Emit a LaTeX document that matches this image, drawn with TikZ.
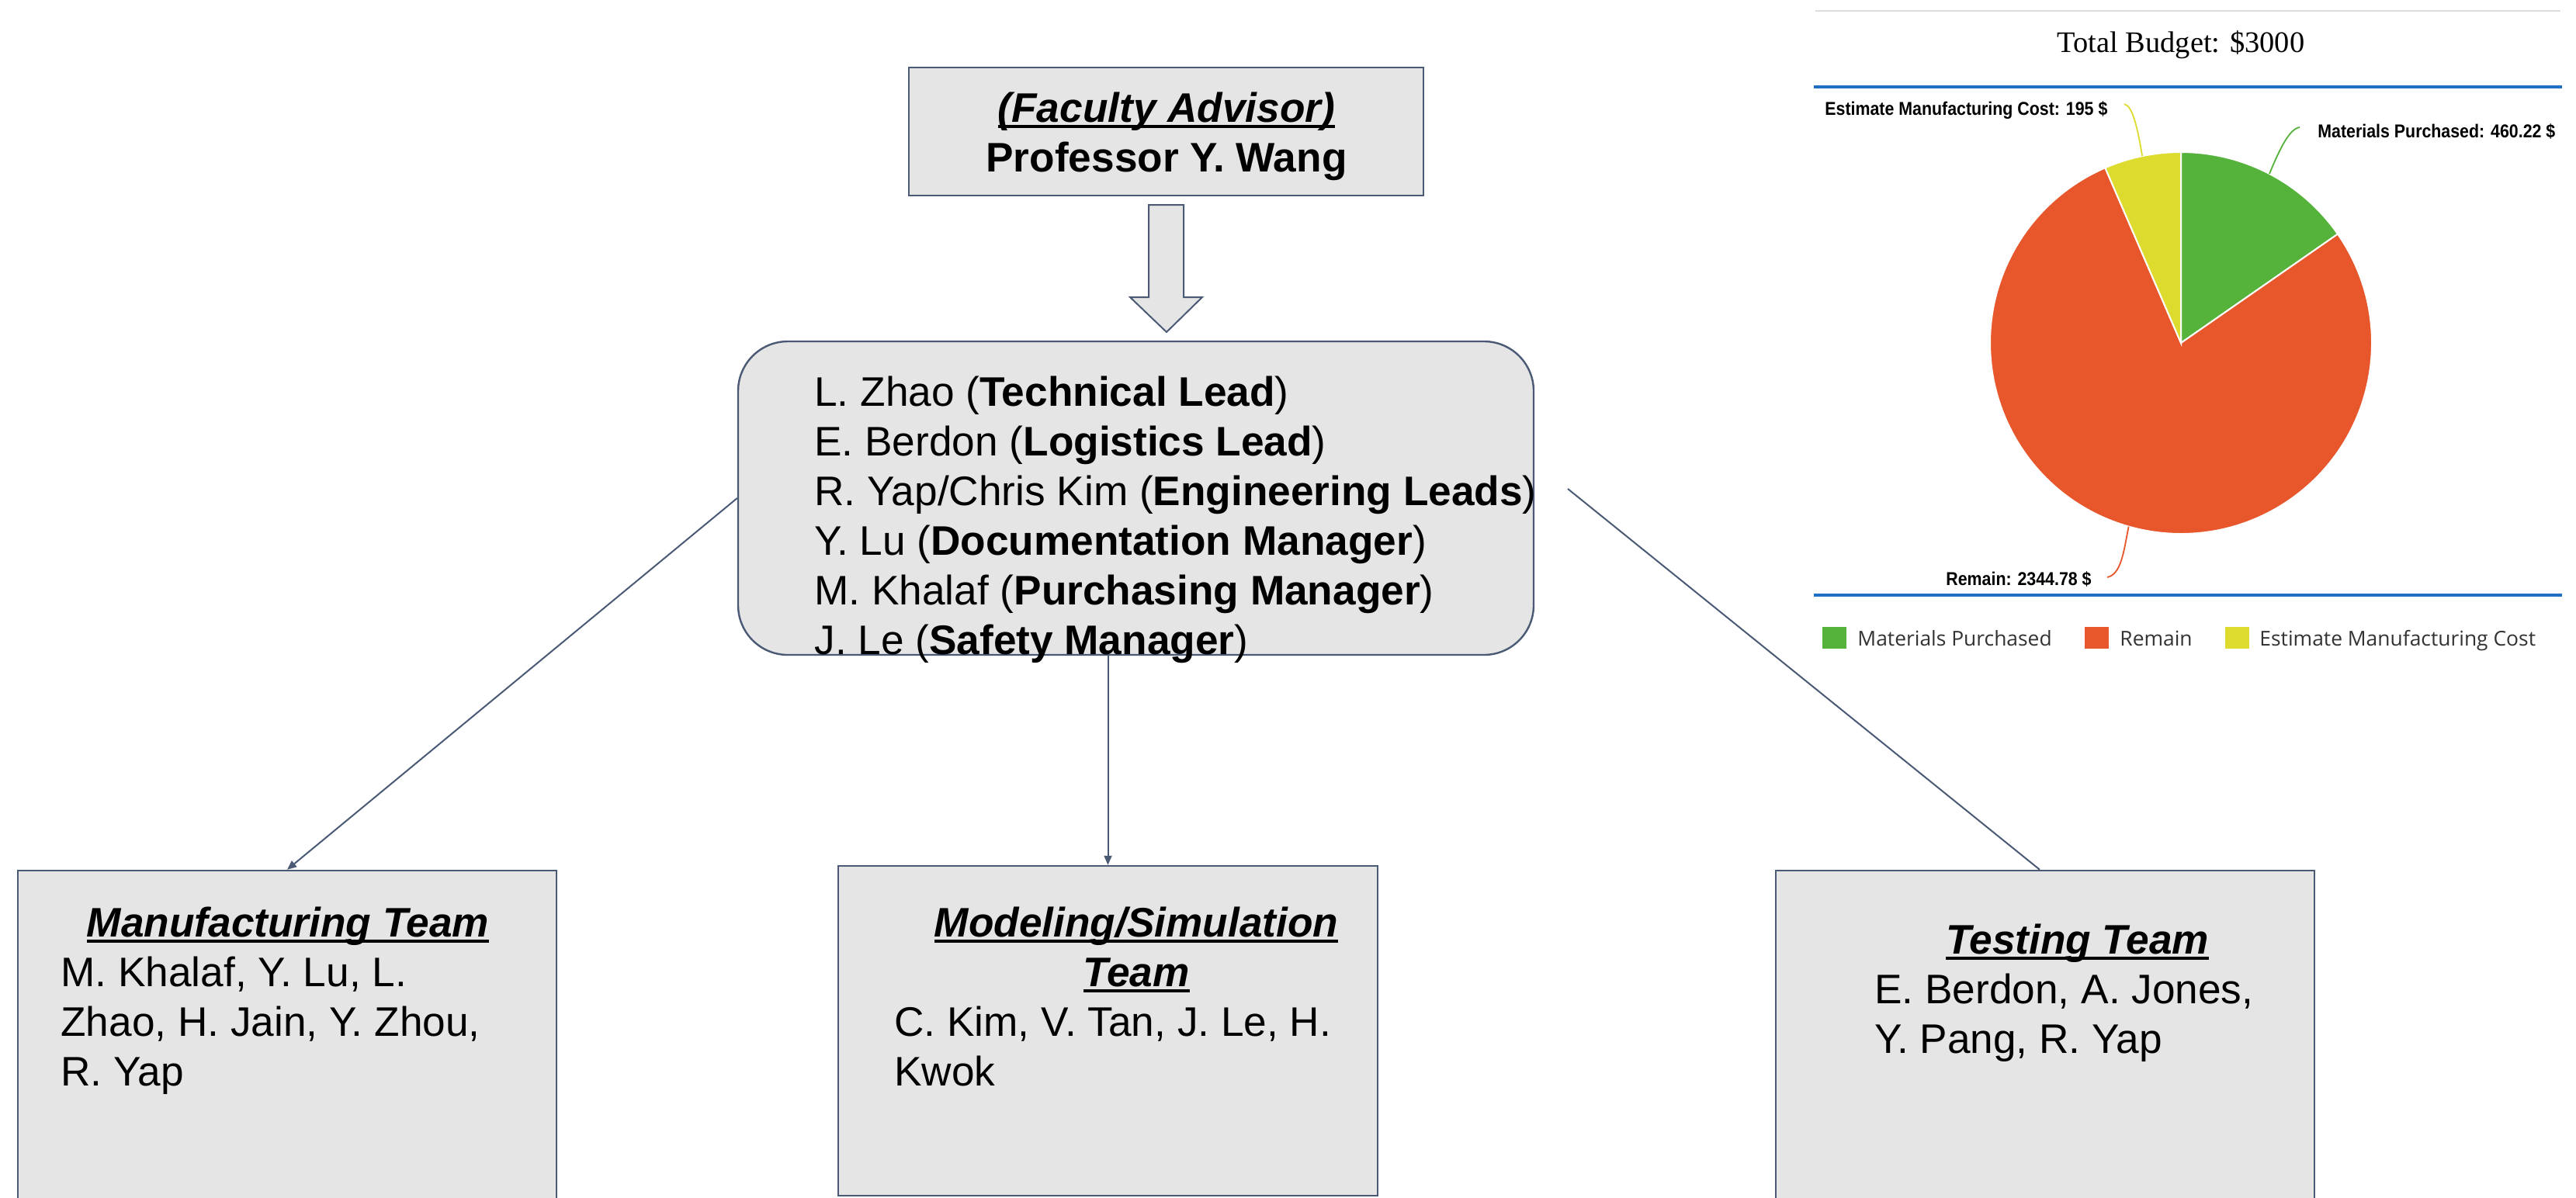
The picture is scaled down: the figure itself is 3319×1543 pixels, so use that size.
\documentclass[tikz,border=0pt]{standalone}
\usepackage{fontspec}
\setmainfont{Liberation Sans}
\newfontfamily\serifbud{Liberation Serif}
\newfontfamily\lblfont[FakeStretch=0.89]{Liberation Sans}
\newfontfamily\legfont{Open Sans}
\usetikzlibrary{calc,arrows.meta}
\definecolor{boxfill}{RGB}{229,229,229}
\definecolor{boxline}{RGB}{74,90,117}
\definecolor{pgreen}{RGB}{85,178,58}
\definecolor{pred}{RGB}{232,87,43}
\definecolor{pyellow}{RGB}{221,220,46}
\definecolor{pblue}{RGB}{31,111,197}
\definecolor{ptop}{RGB}{221,221,221}
\definecolor{legtext}{RGB}{51,51,51}
\newcommand\myul[1]{\setbox0\hbox{#1}\rlap{\rule[-4pt]{\wd0}{2pt}}\box0}
\newcommand\bigtext{\fontsize{26.6pt}{32pt}\selectfont}
\begin{document}
\begin{tikzpicture}[x=0.5pt,y=-0.5pt,
  box/.style={draw=boxline, line width=1.2pt, fill=boxfill, inner sep=0pt},
  txt/.style={inner sep=0pt, font=\bigtext},
  conn/.style={draw=boxline, line width=1pt},
  arr/.style={conn, -{Triangle[length=6pt,width=5pt]}},
  lbl/.style={inner sep=0pt, font={\lblfont\fontsize{12pt}{14pt}\selectfont\bfseries}},
  leg/.style={inner sep=0pt, text=legtext, font={\legfont\fontsize{13.2pt}{16pt}\selectfont}},
  lead/.style={line width=0.9pt}]
\useasboundingbox (0,0) rectangle (3319,1543);
\fill[white] (0,0) rectangle (3319,1543);

% ---------- org chart ----------
\node[box, minimum width=331.5pt, minimum height=82.5pt] (adv) at (1502.5,169.5) {};
\node[txt, anchor=base] (advT) at (1503,157) {\begin{tabular}[t]{@{}c@{}}\myul{\textbf{\textit{(Faculty Advisor)}}}\\ \textbf{Professor Y. Wang}\end{tabular}};

\filldraw[fill=boxfill, draw=boxline, line width=1pt]
  (1480,264) -- (1525,264) -- (1525,383) -- (1549,383) -- (1503,428) -- (1456,383) -- (1480,383) -- cycle;

\node[box, rounded corners=32pt, minimum width=512.5pt, minimum height=202pt] (ctr) at (1463.5,642) {};
\node[txt, anchor=base west] (ctrT) at (1049,523) {\begin{tabular}[t]{@{}l@{}}
L. Zhao (\textbf{Technical Lead})\\
E. Berdon (\textbf{Logistics Lead})\\
R. Yap/Chris Kim (\textbf{Engineering Leads})\\
Y. Lu (\textbf{Documentation Manager})\\
M. Khalaf (\textbf{Purchasing Manager})\\
J. Le (\textbf{Safety Manager})\end{tabular}};

\node[box, minimum width=347pt, minimum height=219pt] (mfg) at (370,1341) {};
\node[txt, anchor=base] (mfgT) at (371,1207) {\myul{\textbf{\textit{Manufacturing Team}}}};
\node[txt, anchor=base west] (mfgB) at (78,1271) {\begin{tabular}[t]{@{}l@{}}
M. Khalaf, Y. Lu, L.\\ Zhao, H. Jain, Y. Zhou,\\ R. Yap\end{tabular}};

\node[box, minimum width=347.5pt, minimum height=212.5pt] (mid) at (1427.5,1328.5) {};
\node[txt, anchor=base] (modT) at (1464,1207) {\begin{tabular}[t]{@{}c@{}}
\myul{\textbf{\textit{Modeling/Simulation}}}\\ \myul{\textbf{\textit{Team}}}\end{tabular}};
\node[txt, anchor=base west] (modB) at (1152,1335) {\begin{tabular}[t]{@{}l@{}}
C. Kim, V. Tan, J. Le, H.\\ Kwok\end{tabular}};

\node[box, minimum width=347pt, minimum height=219pt] (tst) at (2635,1341) {};
\node[txt, anchor=base] (tstT) at (2676.5,1229) {\myul{\textbf{\textit{Testing Team}}}};
\node[txt, anchor=base west] (tstB) at (2415,1293) {\begin{tabular}[t]{@{}l@{}}
E. Berdon, A. Jones,\\ Y. Pang, R. Yap\end{tabular}};

\draw[arr] (ctr.west) -- (mfg.north);
\draw[arr] (mid.north |- ctr.south) -- (mid.north);
\coordinate (rstart) at (2020,630);
\draw[conn] (rstart) -- ($(tst.north)+(-7,0)$);

% ---------- budget chart ----------
\draw[ptop, line width=1pt] (2339,14) -- (3299,14);
\node[inner sep=0pt, anchor=base, font={\serifbud\fontsize{19.2pt}{23pt}\selectfont}] (ttl) at (2810,67) {Total Budget: \$3000};
\draw[pblue, line width=2.3pt] (2337,112) -- (3301,112);
\draw[pblue, line width=2.3pt] (2337,767) -- (3301,767);

\coordinate (pc) at (2810,442);
\def\R{123pt}
\filldraw[fill=pgreen, draw=white, line width=1pt] (pc) -- ($(pc)+(90:\R)$) arc[start angle=90, end angle=34.8, radius=\R] -- cycle;
\filldraw[fill=pred, draw=white, line width=1pt] (pc) -- ($(pc)+(34.8:\R)$) arc[start angle=34.8, end angle=-246.6, radius=\R] -- cycle;
\filldraw[fill=pyellow, draw=white, line width=1pt] (pc) -- ($(pc)+(113.4:\R)$) arc[start angle=113.4, end angle=90, radius=\R] -- cycle;

\coordinate (eY) at ($(pc)+(101.7:\R)$);
\coordinate (eG) at ($(pc)+(62.4:\R)$);
\coordinate (eR) at ($(pc)+(-105.9:\R)$);

\node[lbl, anchor=base west] (lbE) at (2351,148) {Estimate Manufacturing Cost: 195 \$};
\node[lbl, anchor=base west] (lbM) at (2986,177) {Materials Purchased: 460.22 \$};
\node[lbl, anchor=base west] (lbR) at (2507,754) {Remain: 2344.78 \$};

\coordinate (tY) at (2737,134);
\coordinate (tG) at (2963,164);
\coordinate (tR) at (2715,744);
\draw[lead, pyellow] (tY) .. controls (2748,137) and (2754,165) .. (eY);
\draw[lead, pgreen] (tG) .. controls (2950,166) and (2938,190) .. (eG);
\draw[lead, pred] (eR) .. controls (2736,712) and (2733,740) .. (tR);

\fill[pgreen] (2348,808) rectangle (2379,836);
\node[leg, anchor=base west] (legM) at (2393,832) {Materials Purchased};
\fill[pred] (2686,808) rectangle (2717,836);
\node[leg, anchor=base west] (legR) at (2731,832) {Remain};
\fill[pyellow] (2867,808) rectangle (2898,836);
\node[leg, anchor=base west] (legE) at (2911,832) {Estimate Manufacturing Cost};
\end{tikzpicture}
\end{document}
